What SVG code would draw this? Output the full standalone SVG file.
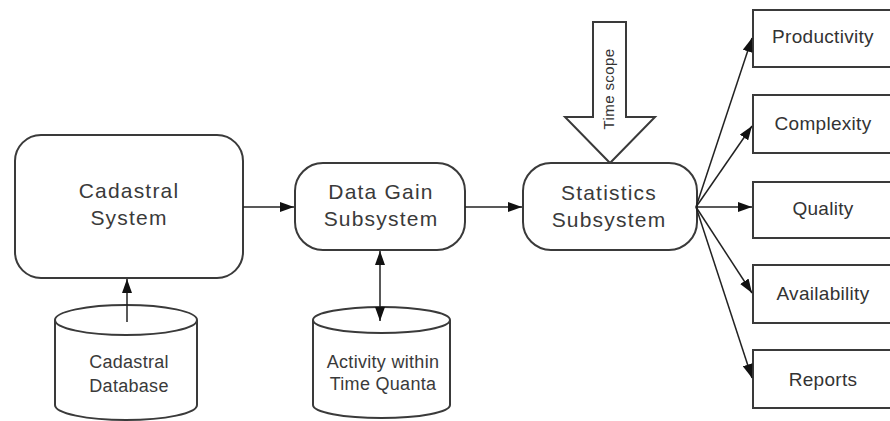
<svg xmlns="http://www.w3.org/2000/svg" width="890" height="421" viewBox="0 0 890 421">
  <style>
    .shape { fill: #ffffff; stroke: #3a3a3a; stroke-width: 2; }
    .link { fill: none; stroke: #222222; stroke-width: 1.5; }
    .big { font-family: "Liberation Sans", Arial, sans-serif; font-size: 21px; letter-spacing: 1.2px; fill: #3a3a3a; text-anchor: middle; }
    .mid { font-family: "Liberation Sans", Arial, sans-serif; font-size: 19px; letter-spacing: 0.3px; fill: #333333; text-anchor: middle; }
    .small { font-family: "Liberation Sans", Arial, sans-serif; font-size: 18px; letter-spacing: 0.3px; fill: #3a3a3a; text-anchor: middle; }
    .tiny { font-family: "Liberation Sans", Arial, sans-serif; font-size: 15px; letter-spacing: 0.4px; fill: #333333; text-anchor: middle; }
  </style>
  <defs>
    <marker id="head" markerUnits="userSpaceOnUse" markerWidth="14" markerHeight="10" refX="14" refY="5" orient="auto-start-reverse">
      <path d="M0,0 L14,5 L0,10 Z" fill="#111111"/>
    </marker>
  </defs>
  <rect width="890" height="421" fill="#ffffff"/>

  <!-- time scope block arrow -->
  <g id="time-scope">
    <polygon class="shape" points="593,22 626,22 626,117 655,117 610,163 565,117 593,117"/>
    <text class="tiny" transform="translate(614,89) rotate(-90)" x="0" y="0">Time scope</text>
  </g>

  <g id="cadastral-system">
    <rect class="shape" x="15" y="135" width="228" height="143" rx="26" ry="26"/>
    <text class="big" x="129" y="198">Cadastral</text>
    <text class="big" x="129" y="225">System</text>
  </g>

  <g id="data-gain">
    <rect class="shape" x="295" y="163" width="170" height="87" rx="28" ry="28"/>
    <text class="big" x="381" y="199">Data Gain</text>
    <text class="big" x="381" y="226">Subsystem</text>
  </g>

  <g id="statistics">
    <rect class="shape" x="523" y="163" width="174" height="87" rx="28" ry="28"/>
    <text class="big" x="609" y="200">Statistics</text>
    <text class="big" x="609" y="227">Subsystem</text>
  </g>

  <g id="cadastral-database">
    <path class="shape" d="M55,320 L55,405 A71,15 0 0 0 197,405 L197,320"/>
    <ellipse class="shape" cx="126" cy="320" rx="71" ry="15"/>
    <text class="small" x="129" y="368">Cadastral</text>
    <text class="small" x="129" y="392">Database</text>
  </g>

  <g id="activity">
    <path class="shape" d="M313,320 L313,405 A68.5,13 0 0 0 450,405 L450,320"/>
    <ellipse class="shape" cx="381.5" cy="320" rx="68.5" ry="13"/>
    <text class="small" x="383" y="368">Activity within</text>
    <text class="small" x="383" y="390">Time Quanta</text>
  </g>

  <g id="productivity">
    <rect class="shape" x="753" y="10" width="150" height="57"/>
    <text class="mid" x="823" y="43">Productivity</text>
  </g>
  <g id="complexity">
    <rect class="shape" x="753" y="95" width="150" height="58"/>
    <text class="mid" x="823" y="130">Complexity</text>
  </g>
  <g id="quality">
    <rect class="shape" x="753" y="182" width="150" height="56"/>
    <text class="mid" x="823" y="215">Quality</text>
  </g>
  <g id="availability">
    <rect class="shape" x="753" y="265" width="150" height="58"/>
    <text class="mid" x="823" y="300">Availability</text>
  </g>
  <g id="reports">
    <rect class="shape" x="753" y="350" width="150" height="58"/>
    <text class="mid" x="823" y="386">Reports</text>
  </g>

  <!-- connectors, drawn over the shapes they touch -->
  <g id="connectors">
    <line class="link" x1="243" y1="207" x2="294" y2="207" marker-end="url(#head)"/>
    <line class="link" x1="465" y1="207" x2="522" y2="207" marker-end="url(#head)"/>
    <line class="link" x1="127" y1="322" x2="127" y2="279" marker-end="url(#head)"/>
    <line class="link" x1="380" y1="251" x2="380" y2="321" marker-start="url(#head)" marker-end="url(#head)"/>
    <line class="link" x1="696" y1="207" x2="752" y2="38" marker-end="url(#head)"/>
    <line class="link" x1="696" y1="207" x2="752" y2="126" marker-end="url(#head)"/>
    <line class="link" x1="696" y1="207" x2="752" y2="207" marker-end="url(#head)"/>
    <line class="link" x1="696" y1="207" x2="752" y2="293" marker-end="url(#head)"/>
    <line class="link" x1="696" y1="207" x2="752" y2="378" marker-end="url(#head)"/>
  </g>
</svg>
